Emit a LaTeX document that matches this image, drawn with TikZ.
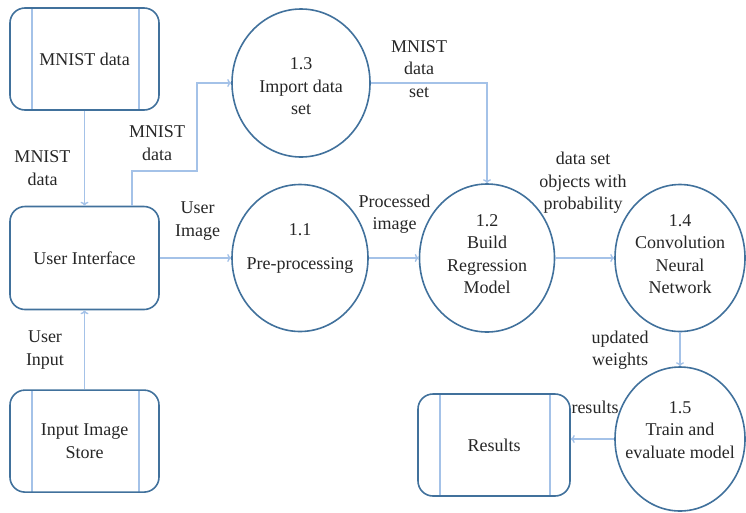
\documentclass[tikz,border=0pt]{standalone}
\usepackage{fontspec}
\setmainfont{Liberation Serif}
\usetikzlibrary{positioning,shapes.geometric,arrows.meta}
\definecolor{outline}{HTML}{41719C}
\definecolor{flowline}{HTML}{A4C2E8}
\definecolor{ink}{HTML}{262626}
\tikzset{
   every node/.style={font=\fontsize{18}{22.5}\selectfont,text=ink},
   store/.style={draw=outline,line width=1.6pt,rounded corners=15pt,
      minimum width=149pt,minimum height=102pt,align=center,
      path picture={\draw[flowline,line width=1.4pt]
         ([xshift=22pt]path picture bounding box.north west) -- ([xshift=22pt]path picture bounding box.south west)
         ([xshift=-20pt]path picture bounding box.north east) -- ([xshift=-20pt]path picture bounding box.south east);}},
   interface/.style={draw=outline,line width=1.6pt,rounded corners=15pt,
      minimum width=149pt,minimum height=103pt,align=center},
   process/.style={ellipse,draw=outline,line width=1.6pt,inner sep=-22pt,align=center},
   flow/.style={draw=flowline,line width=1.4pt,-{To[length=4pt,width=8pt]}},
   tag/.style={align=center,inner sep=1pt}
}
\begin{document}
\begin{tikzpicture}[x=1pt,y=-1pt]
         \useasboundingbox (0,0) rectangle (746,512);
         \node[store,name=mnist] at (84.5,59) {MNIST data};
         \node[interface,name=ui] at (84.5,258) {User Interface};
         \node[store,name=ins,below=79pt of ui] {Input Image\\Store};
         \node[process,name=p13,minimum width=138pt,minimum height=148pt] at (301,83) {\mbox{}\\[-4pt]1.3\\Import data\\set};
         \node[process,name=p11,minimum width=136pt,minimum height=147pt] at (300,258) {1.1\\[11pt]Pre-processing\\\mbox{}};
         \node[process,name=p12,minimum width=135pt,minimum height=148pt] at (487,258) {1.2\\Build\\Regression\\Model\\[-15pt]\mbox{}};
         \node[process,name=p14,minimum width=130pt,minimum height=147pt] at (680,258) {1.4\\Convolution\\Neural\\Network\\[-15pt]\mbox{}};
         \node[process,name=p15,minimum width=130pt,minimum height=144pt] at (680,439) {1.5\\Train and\\evaluate model\\[-4pt]\mbox{}};
         \node[store,name=res,minimum width=152pt] at (494,445) {Results};

         \node[tag,name=t1] at (42.5,168) {MNIST\\data};
         \node[tag,name=t2] at (157,143) {MNIST\\data};
         \node[tag,name=t3] at (419,69) {MNIST\\data\\set};
         \node[tag,name=t4] at (197.5,221) {User\\Image};
         \node[tag,name=t5] at (45,350) {User\\Input};
         \node[tag,name=t6] at (394.5,214) {Processed\\image};
         \node[tag,name=t7] at (583,183) {data set\\objects with\\probability};
         \node[tag,name=t8] at (620,350) {updated\\weights};
         \node[tag,name=t9] at (595,407) {results};

         \coordinate (turn) at (197,171);
         \path[flow]
            (mnist) edge (ui)
            (ins)   edge (ui)
            (ui)    edge (p11)
            (p11)   edge (p12)
            (p12)   edge (p14)
            (p14)   edge (p15);
         \draw[flow] ([xshift=47.5pt]ui.north) |- (turn) |- (p13.west);
         \draw[flow] (p13.east) -| (p12.north);
         \draw[flow] (p15.west) -- (p15.west -| res.east);
      \end{tikzpicture}
\end{document}
